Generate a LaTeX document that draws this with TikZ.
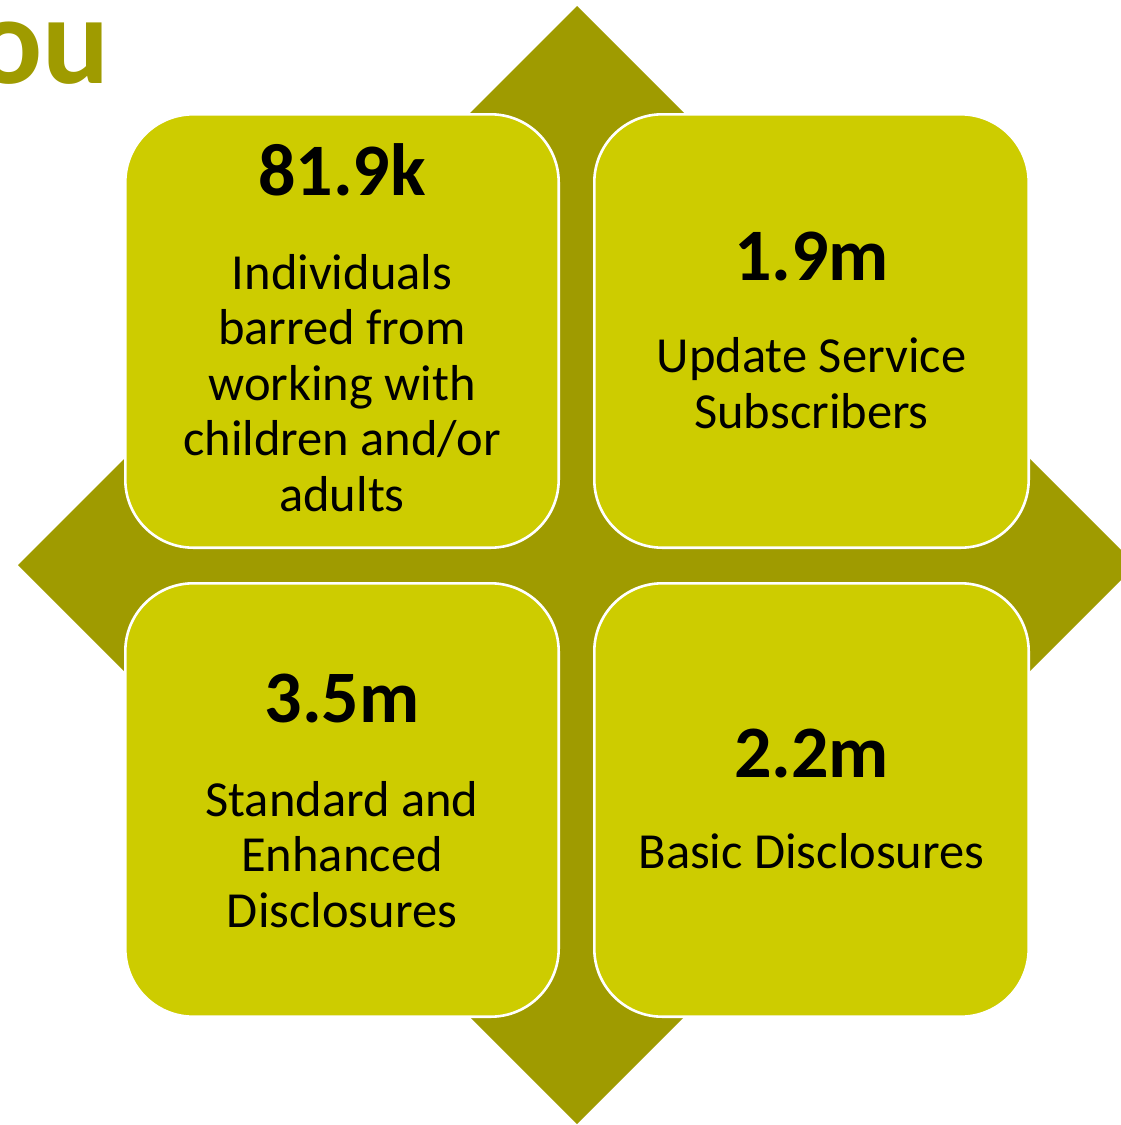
\documentclass[tikz,border=0pt]{standalone}
\usepackage{fontspec}
\setmainfont{Carlito}
\definecolor{olive}{RGB}{159,155,0}
\definecolor{boxfill}{RGB}{205,204,0}
\begin{document}
\begin{tikzpicture}[x=1pt,y=-1pt,
  quad/.style={draw=white, line width=2.6pt, fill=boxfill, rounded corners=68pt},
  bignum/.style={inner sep=0pt, anchor=base, font=\bfseries\fontsize{74}{80}\selectfont},
  label/.style={inner sep=0pt, anchor=base, align=center, font=\fontsize{50.5}{55.5}\selectfont}]
\useasboundingbox (0,0) rectangle (1120,1125);
% diamond
\fill[olive] (577,6) -- (1136,565) -- (577,1124) -- (18,565) -- cycle;
% title fragment
\node[inner sep=0pt, anchor=base east, text=olive, font=\bfseries\fontsize{125}{130}\selectfont] (title) at (110,83) {ou};
% boxes
\draw[quad] (125.3,114.3) rectangle (558.7,547.7);
\draw[quad] (594.3,114.3) rectangle (1028.7,547.7);
\draw[quad] (125.3,583.3) rectangle (558.7,1016.7);
\draw[quad] (594.3,583.3) rectangle (1028.7,1016.7);
% texts (multi-line labels are anchored at the baseline of their last line)
\node[bignum] (n1) at (342,195) {81.9k};
\node[label] (l1) at (342,511) {Individuals\\barred from\\working with\\children and/or\\adults};
\node[bignum] (n2) at (811.5,280) {1.9m};
\node[label] (l2) at (811.5,428) {Update Service\\Subscribers};
\node[bignum] (n3) at (342,722) {3.5m};
\node[label] (l3) at (342,927) {Standard and\\Enhanced\\Disclosures};
\node[bignum] (n4) at (811.5,777) {2.2m};
\node[label] (l4) at (811.5,868) {Basic Disclosures};
\end{tikzpicture}
\end{document}
